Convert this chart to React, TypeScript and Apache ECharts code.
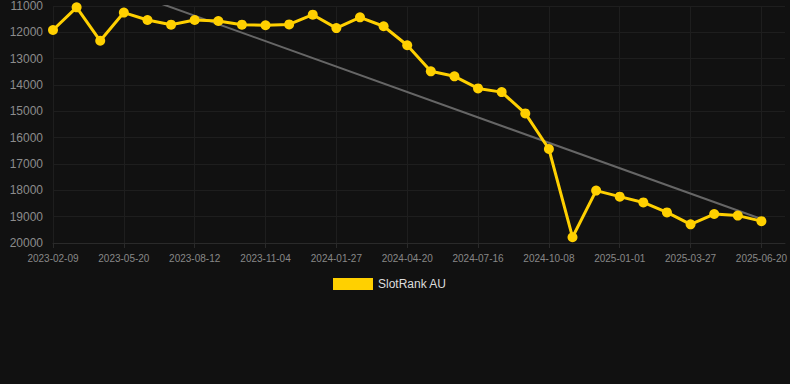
import React, { useEffect, useRef } from "react";
import * as echarts from "echarts";

const categories: string[] = [
  "2023-02-09", "2023-03-15", "2023-04-17", "2023-05-20", "2023-06-17", "2023-07-15",
  "2023-08-12", "2023-09-09", "2023-10-07", "2023-11-04", "2023-12-02", "2023-12-30",
  "2024-01-27", "2024-02-24", "2024-03-23", "2024-04-20", "2024-05-18", "2024-06-17",
  "2024-07-16", "2024-08-13", "2024-09-10", "2024-10-08", "2024-11-05", "2024-12-04",
  "2025-01-01", "2025-01-29", "2025-02-27", "2025-03-27", "2025-04-24", "2025-05-23",
  "2025-06-20",
];

const rankValues: number[] = [
  11910, 11050, 12320, 11250, 11530, 11710, 11530, 11570, 11710, 11730, 11700,
  11330, 11840, 11430, 11770, 12490, 13480, 13670, 14130, 14270, 15080, 16430,
  19780, 18010, 18240, 18460, 18840, 19290, 18900, 18960, 19170,
];

// trend line end points: [category index, value]
const trendPoints: [number, number][] = [
  [0, 9440],
  [30, 19090],
];

const yTicks = { min: 11000, max: 20000, interval: 1000 };

export default function App() {
  const ref = useRef<HTMLDivElement>(null);
  useEffect(() => {
    if (!ref.current) return;
    const chart = echarts.init(ref.current, null, { renderer: "svg" });
    chart.setOption({
      animation: false,
      backgroundColor: "#111111",
      grid: { left: 53, right: 0, top: 6, bottom: 141 },
      legend: {
        data: ["SlotRank AU"],
        top: 273,
        left: 328,
        icon: "rect",
        itemWidth: 40,
        itemHeight: 12,
        itemGap: 10,
        textStyle: { color: "#dddddd", fontSize: 12, fontFamily: "Arial, Liberation Sans, sans-serif" },
      },
      xAxis: {
        type: "category",
        data: categories,
        boundaryGap: false,
        max: 31.18,
        axisLine: { lineStyle: { color: "#2a2a2a" } },
        axisTick: { show: true, interval: 2, length: 5, lineStyle: { color: "#2a2a2a" } },
        axisLabel: {
          interval: 2,
          color: "#888888",
          fontSize: 10,
          margin: 10,
          fontFamily: "Arial, Liberation Sans, sans-serif",
        },
        splitLine: { show: true, interval: 2, lineStyle: { color: "#1e1e1e" } },
      },
      yAxis: {
        type: "value",
        inverse: true,
        min: yTicks.min,
        max: yTicks.max,
        interval: yTicks.interval,
        axisLine: { show: false },
        axisTick: { show: false },
        axisLabel: {
          color: "#8c8c8c",
          fontSize: 12,
          margin: 10,
          formatter: (v: number) => String(v),
          fontFamily: "Arial, Liberation Sans, sans-serif",
        },
        splitLine: { show: true, lineStyle: { color: "#1e1e1e" } },
      },
      series: [
        {
          name: "Trend",
          type: "line",
          data: trendPoints,
          symbol: "none",
          lineStyle: { color: "#666666", width: 2 },
          clip: true,
          silent: true,
          z: 1,
        },
        {
          name: "SlotRank AU",
          type: "line",
          data: rankValues,
          symbol: "circle",
          symbolSize: 10,
          itemStyle: { color: "#FFD000" },
          lineStyle: { color: "#FFD000", width: 3 },
          z: 3,
        },
      ],
    });
    return () => chart.dispose();
  }, []);
  return (
    <div
      ref={ref}
      style={{ position: "fixed", left: 0, top: 0, width: 790, height: 384 }}
    />
  );
}
